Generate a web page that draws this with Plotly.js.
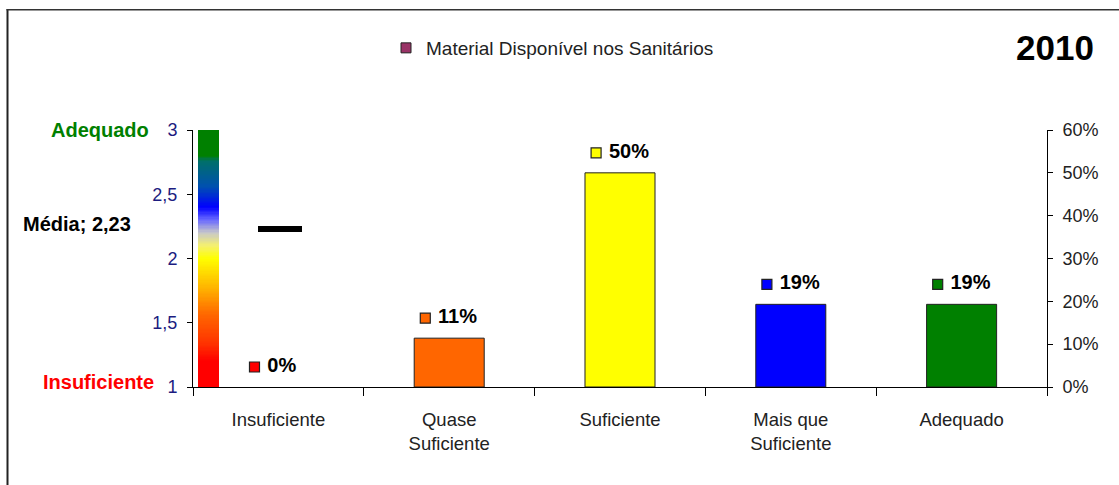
<!DOCTYPE html>
<html>
<head>
<meta charset="utf-8">
<script src="https://cdn.plot.ly/plotly-3.0.1.min.js"></script>
<style>html,body{margin:0;padding:0;background:#fff;}#chart{width:1119px;height:485px;}</style>
</head>
<body>
<div id="chart"></div>
<script>
// ---- data ----
const categories = ['Insuficiente', 'Quase<br>Suficiente', 'Suficiente', 'Mais que<br>Suficiente', 'Adequado'];
const percentages = [0, 0.114, 0.50, 0.193, 0.193];
const barColors = ['#ff0000', '#ff6600', '#ffff00', '#0000ff', '#008000'];
const meanValue = 2.23;
const seriesName = 'Material Disponível nos Sanitários';
const yearLabel = '2010';
const scaleTop = 'Adequado';
const scaleBottom = 'Insuficiente';
const leftTicks = [1, 1.5, 2, 2.5, 3];
const rightTicks = [0, 0.1, 0.2, 0.3, 0.4, 0.5, 0.6];

// ---- geometry helpers (layout only) ----
const W = 1119, H = 485;
const L = 193, R = 1047, T = 130, B = 387;
const pw = R - L, ph = B - T;
const px2paperX = p => (p - L) / pw;
const px2paperY = p => (B - p) / ph;
const px2cat = p => (p - L) / pw * categories.length - 0.5;
const font = 'Liberation Sans, Arial, sans-serif';
const idx = categories.map((c, i) => i);
const bounds = idx.concat([categories.length]).map(i => i - 0.5);

// gradient scale (decoration)
const gradScale = [
  [0, '#ff0000'], [0.1, '#ff0000'], [0.17, '#ff3300'], [0.28, '#ff6600'],
  [0.38, '#ffb000'], [0.5, '#ffff00'], [0.55, '#f4f070'], [0.6, '#c8c8c8'],
  [0.65, '#6a6aff'], [0.7, '#0000ff'], [0.78, '#0050b0'], [0.88, '#007068'],
  [0.9, '#008000'], [1, '#008000']
];
const gy = [], gz = [];
for (let k = 0; k <= 200; k++) gy.push(1 + k * 0.01);
for (let k = 0; k < 200; k++) gz.push([1 + (k + 0.5) * 0.01]);

const labelOffset = 20 * 0.6 / ph; // ~20px above bar top

const traces = [
  {
    type: 'heatmap', x: [px2cat(198), px2cat(219)], y: gy, z: gz,
    xaxis: 'x', yaxis: 'y', colorscale: gradScale, zmin: 1, zmax: 3,
    showscale: false, hoverinfo: 'skip'
  },
  {
    type: 'scatter', mode: 'lines', xaxis: 'x', yaxis: 'y',
    x: [px2cat(258), px2cat(302)], y: [meanValue, meanValue],
    line: {color: '#000', width: 6}, showlegend: false, hoverinfo: 'skip'
  },
  {
    type: 'bar', x: idx, y: percentages, xaxis: 'x', yaxis: 'y2',
    width: 0.41,
    marker: {color: barColors, line: {color: '#222', width: percentages.map(v => v > 0 ? 1 : 0)}},
    showlegend: false, hoverinfo: 'skip'
  },
  {
    type: 'scatter', mode: 'markers+text', xaxis: 'x', yaxis: 'y2',
    x: idx.map(i => i - 0.14), y: percentages.map(v => v + labelOffset),
    text: percentages.map(v => '\u00a0<b>' + Math.round(v * 100) + '%</b>'),
    textposition: 'middle right',
    textfont: {family: font, size: 20, color: '#000'},
    marker: {symbol: 'square', size: 10, color: barColors, line: {color: '#222', width: 1.2}},
    showlegend: false, hoverinfo: 'skip', cliponaxis: false
  },
  {
    type: 'scatter', mode: 'markers', x: [null], y: [null], xaxis: 'x', yaxis: 'y2',
    name: seriesName,
    marker: {symbol: 'square', size: 10, color: '#993366', line: {color: '#222', width: 1}}
  }
];

const layout = {
  width: W, height: H,
  margin: {l: L, r: W - R, t: T, b: H - B, pad: 0},
  paper_bgcolor: '#fff', plot_bgcolor: '#fff',
  separators: ',.',
  font: {family: font, size: 16, color: '#000'},
  showlegend: true,
  legend: {
    orientation: 'h', x: px2paperX(386), xanchor: 'left', y: px2paperY(48), yanchor: 'middle',
    font: {family: font, size: 19, color: '#222'}, bgcolor: 'rgba(0,0,0,0)'
  },
  xaxis: {
    range: [-0.5, 4.5], tickvals: idx, ticktext: categories, ticks: '',
    minor: {tickvals: bounds, ticks: 'outside', ticklen: 8, tickcolor: '#000', tickwidth: 1, showgrid: false},
    showline: true, linecolor: '#000', linewidth: 1, showgrid: false, zeroline: false,
    tickfont: {family: font, size: 18.5, color: '#222'}, ticklabelstandoff: 16,
    fixedrange: true
  },
  yaxis: {
    range: [1, 3], tickvals: leftTicks, ticks: 'outside', ticklen: 5, tickcolor: '#000',
    showline: true, linecolor: '#000', linewidth: 1, showgrid: false, zeroline: false,
    tickfont: {family: font, size: 18, color: '#1c1c80'}, ticklabelstandoff: 6, fixedrange: true
  },
  yaxis2: {
    overlaying: 'y', side: 'right', range: [0, 0.6], tickvals: rightTicks, tickformat: '.0%',
    ticks: 'outside', ticklen: 5, tickcolor: '#000', showline: true, linecolor: '#000', linewidth: 1,
    showgrid: false, zeroline: false,
    tickfont: {family: font, size: 18, color: '#222'}, ticklabelstandoff: 6, fixedrange: true
  },
  annotations: [
    {xref: 'paper', yref: 'y', x: px2paperX(151), y: 3, xanchor: 'right', yanchor: 'middle',
     text: '<b>' + scaleTop + '</b>', showarrow: false, font: {family: font, size: 20, color: '#008000'}},
    {xref: 'paper', yref: 'paper', x: px2paperX(156), y: px2paperY(382), xanchor: 'right', yanchor: 'middle',
     text: '<b>' + scaleBottom + '</b>', showarrow: false, font: {family: font, size: 20, color: '#ff0000'}},
    {xref: 'paper', yref: 'paper', x: px2paperX(21), y: px2paperY(224), xanchor: 'left', yanchor: 'middle',
     text: '<b>Média; ' + String(meanValue).replace('.', ',') + '</b>', showarrow: false,
     font: {family: font, size: 20, color: '#000'}},
    {xref: 'paper', yref: 'paper', x: px2paperX(1096), y: px2paperY(47), xanchor: 'right', yanchor: 'middle',
     text: '<b>' + yearLabel + '</b>', showarrow: false, font: {family: font, size: 35, color: '#000'}}
  ],
  shapes: [
    {type: 'line', xref: 'paper', yref: 'paper', x0: px2paperX(7.5), x1: px2paperX(7.5),
     y0: px2paperY(9), y1: px2paperY(490), line: {color: '#222', width: 2}},
    {type: 'line', xref: 'paper', yref: 'paper', x0: px2paperX(6.5), x1: px2paperX(1125),
     y0: px2paperY(9.7), y1: px2paperY(9.7), line: {color: '#333', width: 1.6}}
  ]
};

Plotly.newPlot('chart', traces, layout, {displayModeBar: false, staticPlot: true});
</script>
</body>
</html>
